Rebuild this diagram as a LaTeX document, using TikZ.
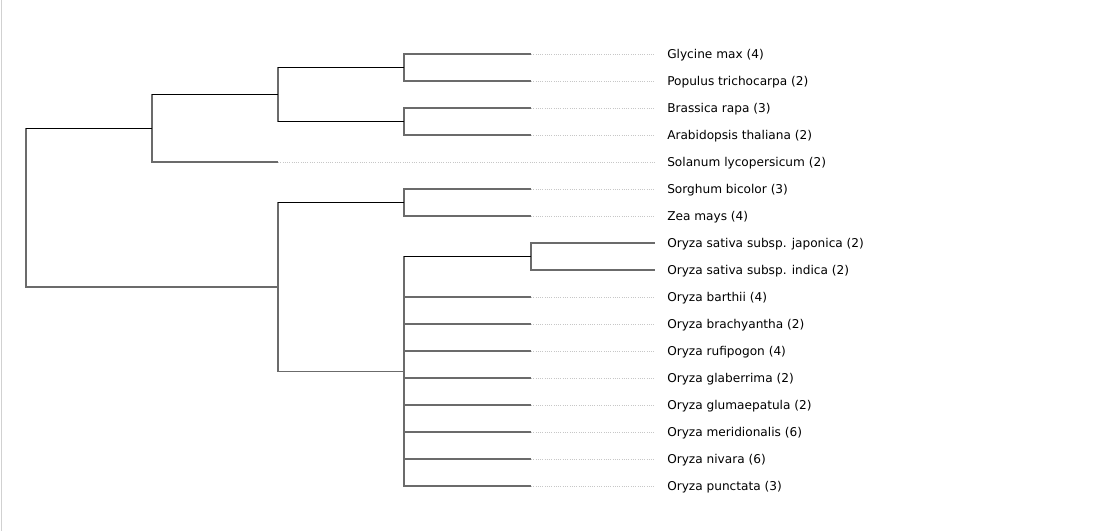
\documentclass[tikz,border=0pt]{standalone}
\usepackage{fontspec}
\setmainfont{DejaVu Sans}
\begin{document}
\begin{tikzpicture}[x=0.75pt,y=-0.75pt,
  edge/.style={draw=black!58,line width=1.05pt},
  iedge/.style={draw=black,line width=0.7pt},
  guide/.style={draw=black!22,line width=0.6pt,dash pattern=on 0.6pt off 1.1pt},
  lab/.style={anchor=west,inner sep=0pt,yshift=-0.6pt,font=\fontsize{9.1pt}{11pt}\selectfont,text=black}]
\useasboundingbox (0,0) rectangle (1117,531);
\draw[black!18,line width=1.1pt] (1.5,0) -- (1.5,531);
% internal nodes
\coordinate (root) at (26,207.6);
\coordinate (dic) at (152,128.25);
\coordinate (ros) at (278,94.5);
\coordinate (gp) at (404,67.5);
\coordinate (ba) at (404,121.5);
\coordinate (mon) at (278,286.9);
\coordinate (sz) at (404,202.5);
\coordinate (ory) at (404,371.25);
\coordinate (sat) at (531,256.5);
% tips
\coordinate (t1) at (531,54);
\coordinate (t2) at (531,81);
\coordinate (t3) at (531,108);
\coordinate (t4) at (531,135);
\coordinate (t5) at (278,162);
\coordinate (t6) at (531,189);
\coordinate (t7) at (531,216);
\coordinate (t8) at (655,243);
\coordinate (t9) at (655,270);
\foreach \i/\y in {10/297,11/324,12/351,13/378,14/405,15/432,16/459,17/486}
  \coordinate (t\i) at (531,\y);
% guide ends
\foreach \i/\y in {1/54,2/81,3/108,4/135,5/162,6/189,7/216,8/243,9/270,10/297,11/324,12/351,13/378,14/405,15/432,16/459,17/486}
  \coordinate (e\i) at (655,\y);
% labels
\node[lab] (l1) at (667,54) {Glycine max (4)};
\node[lab] (l2) at (667,81) {Populus trichocarpa (2)};
\node[lab] (l3) at (667,108) {Brassica rapa (3)};
\node[lab] (l4) at (667,135) {Arabidopsis thaliana (2)};
\node[lab] (l5) at (667,162) {Solanum lycopersicum (2)};
\node[lab] (l6) at (667,189) {Sorghum bicolor (3)};
\node[lab] (l7) at (667,216) {Zea mays (4)};
\node[lab] (l8) at (667,243) {Oryza sativa subsp. japonica (2)};
\node[lab] (l9) at (667,270) {Oryza sativa subsp. indica (2)};
\node[lab] (l10) at (667,297) {Oryza barthii (4)};
\node[lab] (l11) at (667,324) {Oryza brachyantha (2)};
\node[lab] (l12) at (667,351) {Oryza rufipogon (4)};
\node[lab] (l13) at (667,378) {Oryza glaberrima (2)};
\node[lab] (l14) at (667,405) {Oryza glumaepatula (2)};
\node[lab] (l15) at (667,432) {Oryza meridionalis (6)};
\node[lab] (l16) at (667,459) {Oryza nivara (6)};
\node[lab] (l17) at (667,486) {Oryza punctata (3)};
% guides
\foreach \i in {1,2,3,4,5,6,7,10,11,12,13,14,15,16,17}
  \draw[guide] (t\i) -- (e\i);
% tree
\draw[edge] (root) |- (dic);
\draw[edge] (root) |- (mon);
\draw[edge] (dic) |- (ros);
\draw[edge] (dic) |- (t5);
\draw[edge] (ros) |- (gp);
\draw[edge] (ros) |- (ba);
\draw[edge] (gp) |- (t1);
\draw[edge] (gp) |- (t2);
\draw[edge] (ba) |- (t3);
\draw[edge] (ba) |- (t4);
\draw[edge] (mon) |- (sz);
\draw[edge] (mon) |- (ory);
\draw[edge] (sz) |- (t6);
\draw[edge] (sz) |- (t7);
\draw[edge] (ory) |- (sat);
\foreach \i in {10,11,12,13,14,15,16,17}
  \draw[edge] (ory) |- (t\i);
\draw[edge] (sat) |- (t8);
\draw[edge] (sat) |- (t9);
% darker internal horizontals
\draw[iedge] (root |- dic) -- (dic);
\draw[iedge] (dic |- ros) -- (ros);
\draw[iedge] (ros |- gp) -- (gp);
\draw[iedge] (ros |- ba) -- (ba);
\draw[iedge] (mon |- sz) -- (sz);
\draw[iedge] (ory |- sat) -- (sat);
\end{tikzpicture}
\end{document}
